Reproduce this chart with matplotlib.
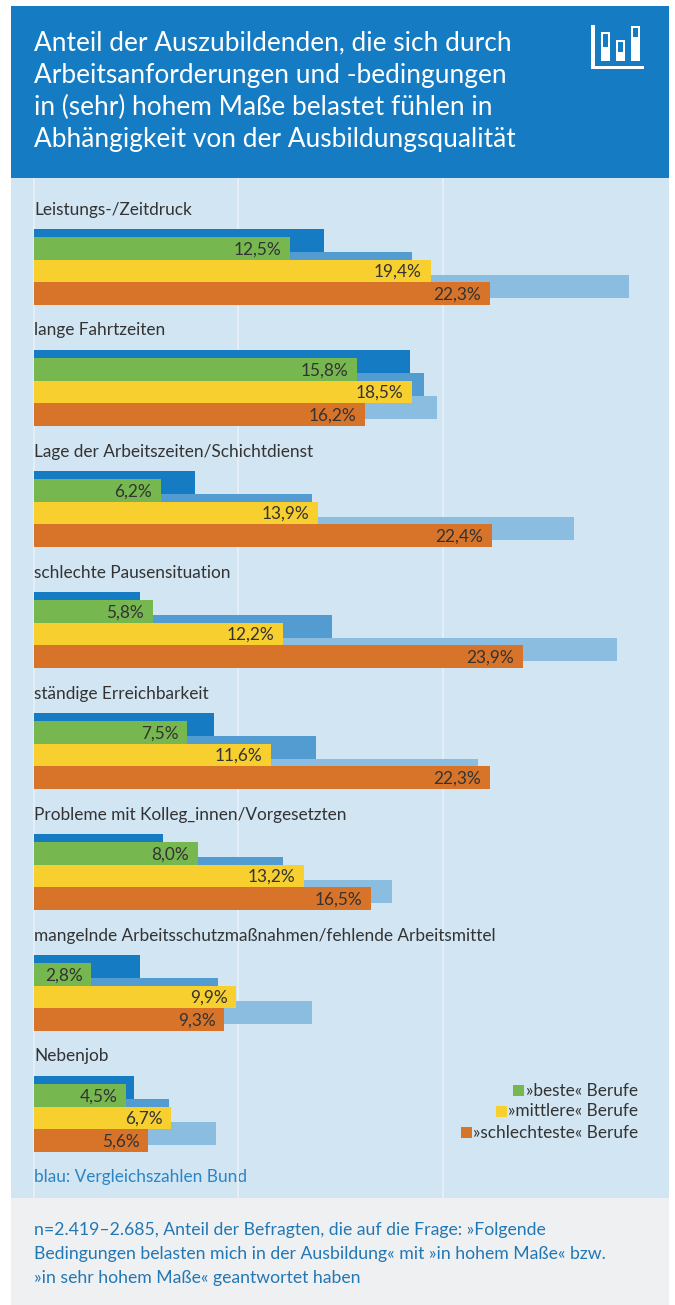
import numpy as np
import matplotlib
matplotlib.use('Agg')
import matplotlib.pyplot as plt
from matplotlib.patches import Rectangle

kategorien = ['Leistungs-/Zeitdruck', 'lange Fahrtzeiten', 'Lage der Arbeitszeiten/Schichtdienst',
              'schlechte Pausensituation', 'ständige Erreichbarkeit',
              'Probleme mit Kolleg_innen/Vorgesetzten',
              'mangelnde Arbeitsschutzmaßnahmen/fehlende Arbeitsmittel', 'Nebenjob']
beste = [12.5, 15.8, 6.2, 5.8, 7.5, 8.0, 2.8, 4.5]
mittlere = [19.4, 18.5, 13.9, 12.2, 11.6, 13.2, 9.9, 6.7]
schlechteste = [22.3, 16.2, 22.4, 23.9, 22.3, 16.5, 9.3, 5.6]
bund_beste = [14.2, 18.4, 7.9, 5.2, 8.8, 6.3, 5.2, 4.9]
bund_mittlere = [18.5, 19.1, 13.6, 14.6, 13.8, 12.2, 9.0, 6.6]
bund_schlechteste = [29.1, 19.7, 26.4, 28.5, 21.7, 17.5, 13.6, 8.9]

titel = ['Anteil der Auszubildenden, die sich durch', 'Arbeitsanforderungen und -bedingungen',
         'in (sehr) hohem Maße belastet fühlen in', 'Abhängigkeit von der Ausbildungsqualität']
fussnote = ['n=2.419–2.685, Anteil der Befragten, die auf die Frage: »Folgende',
            'Bedingungen belasten mich in der Ausbildung« mit »in hohem Maße« bzw.',
            '»in sehr hohem Maße« geantwortet haben']

plt.rcParams['font.family'] = ['Lato', 'DejaVu Sans']

DUNKEL, MITTEL, HELL = '#157bc3', '#529cd2', '#8bbde0'
GRUEN, GELB, ORANGE = '#76b750', '#f7d030', '#d7742a'
PANEL = '#d2e5f3'
TEXT = '#333333'
W, H = 675, 1305
FS = 12.45
PX = 20.44  # Pixel je Prozentpunkt

fig = plt.figure(figsize=(W / 100, H / 100), dpi=100, facecolor='white')

# Hintergrund und Texte in Pixelkoordinaten
bg = fig.add_axes([0, 0, 1, 1], zorder=0)
bg.set_xlim(0, W)
bg.set_ylim(H, 0)
bg.axis('off')
bg.add_patch(Rectangle((11, 6), 658, 172, color=DUNKEL, lw=0))
bg.add_patch(Rectangle((11, 178), 658, 1020, color=PANEL, lw=0))
bg.add_patch(Rectangle((11, 1198), 658, 107, color='#eff0f2', lw=0))

# Balken: 8 Gruppen, eine Gruppe = 121 px
ax = fig.add_axes([11 / W, (H - 1198) / H, 658 / W, 1020 / H], zorder=1)
ax.patch.set_alpha(0)
ax.set_xlim((11 - 34) / PX, (669 - 34) / PX)
ax.set_ylim((1198 - 229) / 121, (178 - 229) / 121)
for s in ax.spines.values():
    s.set_visible(False)
ax.set_xticks([0, 10, 20])
ax.set_yticks([])
ax.tick_params(length=0, labelbottom=False)
ax.grid(axis='x', color='#e4eff7', lw=1.4, zorder=0)
ax.set_axisbelow(True)

y = np.arange(len(kategorien))
hoehe = 23 / 121
ax.barh(y + 11.5 / 121, bund_beste, hoehe, color=DUNKEL, zorder=2)
ax.barh(y + 34.5 / 121, bund_mittlere, hoehe, color=MITTEL, zorder=2)
ax.barh(y + 57.5 / 121, bund_schlechteste, hoehe, color=HELL, zorder=2)
ax.barh(y + 19.5 / 121, beste, hoehe, color=GRUEN, zorder=3)
ax.barh(y + 42 / 121, mittlere, 22 / 121, color=GELB, zorder=3)
ax.barh(y + 64.5 / 121, schlechteste, hoehe, color=ORANGE, zorder=3)

for i, k in enumerate(kategorien):
    ax.text(0, i - 19.5 / 121, k, fontsize=FS, color=TEXT, va='center', ha='left')
    for werte, dy in ((beste, 20.5), (mittlere, 43), (schlechteste, 65.5)):
        ax.text(werte[i] - 0.42, i + dy / 121, f'{werte[i]:.1f}%'.replace('.', ','),
                fontsize=FS, color=TEXT, va='center', ha='right', zorder=4)

for i, zeile in enumerate(titel):
    bg.text(34, 43 + i * 32.3, zeile, fontsize=18.9, color='white', va='center', ha='left')
for i, zeile in enumerate(fussnote):
    bg.text(34, 1230.5 + i * 24, zeile, fontsize=12.7, color='#2278b5', va='center', ha='left')
bg.text(34, 1177, 'blau: Vergleichszahlen Bund', fontsize=FS, color='#2a85c7', va='center', ha='left')

# Legende
legende = [('»beste« Berufe', GRUEN, 513, 1090), ('»mittlere« Berufe', GELB, 496, 1111),
           ('»schlechteste« Berufe', ORANGE, 461, 1132)]
for text, farbe, x0, yc in legende:
    bg.add_patch(Rectangle((x0, yc - 5.5), 11, 11, color=farbe, lw=0, zorder=5))
    bg.text(638, yc + 0.5, text, fontsize=FS, color=TEXT, va='center', ha='right', zorder=5)

# Icon oben rechts
ic = fig.add_axes([0, 0, 1, 1], zorder=2)
ic.set_xlim(0, W)
ic.set_ylim(H, 0)
ic.axis('off')
ic.add_patch(Rectangle((591, 25), 3.5, 44, color='white', lw=0))
ic.add_patch(Rectangle((591, 66), 53, 3, color='white', lw=0))
for x0, y0, iy0, iy1 in ((601, 32, 34, 47), (616, 40, 42, 52), (631, 26, 28, 37)):
    ic.add_patch(Rectangle((x0, y0), 9, 61 - y0, color='white', lw=0))
    ic.add_patch(Rectangle((x0 + 1.7, iy0), 5.6, iy1 - iy0, color=DUNKEL, lw=0))

fig.savefig('out.png', dpi=100)
